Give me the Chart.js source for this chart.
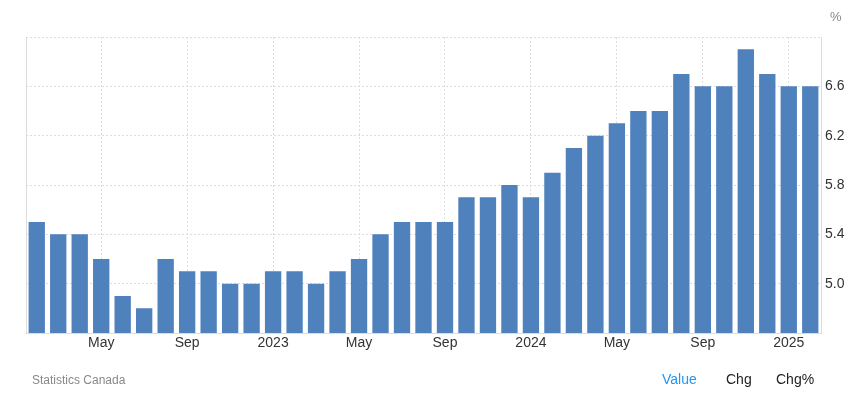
<!DOCTYPE html>
<html>
<head>
<meta charset="utf-8">
<script src="https://cdn.jsdelivr.net/npm/chart.js@4/dist/chart.umd.min.js"></script>
<style>
  html, body { margin: 0; padding: 0; background: #fff; }
  #wrap { position: relative; width: 854px; height: 398px; font-family: "Liberation Sans", Arial, sans-serif; }
  canvas { position: absolute; left: 0; top: 0; }
  .txt { position: absolute; white-space: nowrap; }
</style>
</head>
<body>
<div id="wrap">
  <canvas id="c" width="854" height="398"></canvas>
  <div class="txt" style="left:830px; top:9px; font-size:13px; color:#888;">%</div>
  <div class="txt" style="left:32px; top:373px; font-size:12px; color:#888;">Statistics Canada</div>
  <div class="txt" style="left:662px; top:371px; font-size:14px; color:#2196f3;">Value</div>
  <div class="txt" style="left:726px; top:371px; font-size:14px; color:#222;">Chg</div>
  <div class="txt" style="left:776px; top:371px; font-size:14px; color:#222;">Chg%</div>
</div>
<script>
const categories = [
  'Feb 2022','Mar 2022','Apr 2022','May 2022','Jun 2022','Jul 2022','Aug 2022','Sep 2022','Oct 2022','Nov 2022','Dec 2022',
  'Jan 2023','Feb 2023','Mar 2023','Apr 2023','May 2023','Jun 2023','Jul 2023','Aug 2023','Sep 2023','Oct 2023','Nov 2023','Dec 2023',
  'Jan 2024','Feb 2024','Mar 2024','Apr 2024','May 2024','Jun 2024','Jul 2024','Aug 2024','Sep 2024','Oct 2024','Nov 2024','Dec 2024',
  'Jan 2025','Feb 2025'
];
const unemploymentRate = [
  5.5, 5.4, 5.4, 5.2, 4.9, 4.8, 5.2, 5.1, 5.1, 5.0, 5.0,
  5.1, 5.1, 5.0, 5.1, 5.2, 5.4, 5.5, 5.5, 5.5, 5.7, 5.7, 5.8,
  5.7, 5.9, 6.1, 6.2, 6.3, 6.4, 6.4, 6.7, 6.6, 6.6, 6.9, 6.7,
  6.6, 6.6
];
const tickCategories = ['May 2022','Sep 2022','Jan 2023','May 2023','Sep 2023','Jan 2024','May 2024','Sep 2024','Jan 2025'];
const tickLabels = ['May','Sep','2023','May','Sep','2024','May','Sep','2025'];
const yTickValues = [5.0, 5.4, 5.8, 6.2, 6.6];

const GRID = '#dcdcdc';
const TEXT = '#333';

new Chart(document.getElementById('c'), {
  type: 'bar',
  data: {
    labels: categories,
    datasets: [{
      data: unemploymentRate,
      backgroundColor: '#4f81bd',
      borderWidth: 0,
      categoryPercentage: 1.0,
      barPercentage: 0.76,
      yAxisID: 'y'
    }]
  },
  options: {
    responsive: false,
    animation: false,
    events: [],
    layout: { padding: { left: 26, top: 37, right: 0, bottom: 34 } },
    plugins: { legend: { display: false }, tooltip: { enabled: false } },
    scales: {
      x: {
        type: 'category',
        offset: true,
        grid: {
          offset: false,
          drawTicks: false,
          color: (ctx) => {
            const lbl = categories[ctx.index];
            return tickCategories.includes(lbl) ? GRID : 'rgba(0,0,0,0)';
          }
        },
        border: { display: true, color: GRID, width: 1, dash: [2, 2] },
        ticks: {
          autoSkip: false,
          maxRotation: 0,
          padding: 2,
          color: TEXT,
          font: { family: '"Liberation Sans", Arial, sans-serif', size: 14 },
          callback: function(value, index) {
            const k = tickCategories.indexOf(categories[index]);
            return k >= 0 ? tickLabels[k] : '';
          }
        },
        afterFit: (s) => { s.height = 31; }
      },
      y: {
        position: 'right',
        min: 4.6,
        max: 7.0,
        grid: { color: GRID, drawTicks: false },
        border: { display: true, color: GRID, width: 1, dash: [2, 2] },
        ticks: {
          stepSize: 0.4,
          padding: 4,
          color: TEXT,
          font: { family: '"Liberation Sans", Arial, sans-serif', size: 14 },
          callback: function(value) {
            const v = Math.round(value * 10) / 10;
            return yTickValues.some(t => Math.abs(t - v) < 1e-6) ? v.toFixed(1) : '';
          }
        },
        afterFit: (s) => { s.width = 33; }
      },
      yLeft: {
        position: 'left',
        min: 4.6,
        max: 7.0,
        grid: { display: false, drawOnChartArea: false, drawTicks: false },
        border: { display: true, color: GRID, width: 1 },
        ticks: { display: false },
        afterFit: (s) => { s.width = 0; }
      }
    }
  }
});
</script>
</body>
</html>
